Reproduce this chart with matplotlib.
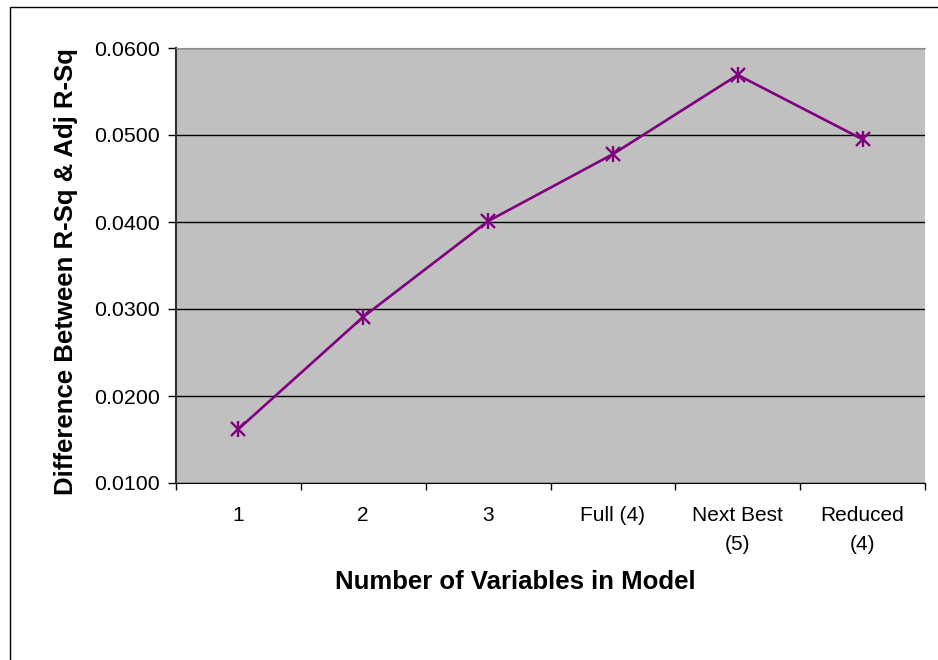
import numpy as np
import matplotlib.pyplot as plt
from matplotlib.patches import Rectangle

plt.rcParams['font.family'] = ['Liberation Sans', 'DejaVu Sans']

# values
categories = ["1", "2", "3", "Full (4)", "Next Best\n(5)", "Reduced\n(4)"]
diff_rsq = [0.0162, 0.0291, 0.0401, 0.0478, 0.0569, 0.0495]
y_ticks = [0.01, 0.02, 0.03, 0.04, 0.05, 0.06]

W, H = 938, 660
fig = plt.figure(figsize=(W / 100, H / 100), dpi=100)

# outer chart border (only left/top visible in the reference)
fig.patches.append(Rectangle((10 / W, -0.1), 1.2, 1 - 7 / H + 0.1,
                             transform=fig.transFigure, fill=False,
                             edgecolor='black', linewidth=1.0))

ax = fig.add_axes([176 / W, 1 - 483 / H, (925 - 176) / W, (483 - 48) / H])
ax.set_facecolor('#C0C0C0')

x = np.arange(len(categories))
ax.plot(x, diff_rsq, color='#800080', linewidth=1.9, marker='x',
        markersize=10, markeredgewidth=1.7, zorder=3)
ax.plot(x, diff_rsq, color='#800080', linestyle='none', marker='|',
        markersize=11.5, markeredgewidth=1.7, zorder=3)

ax.set_xlim(-0.5, len(categories) - 0.5)
ax.set_ylim(0.01, 0.06)

ax.set_yticks(y_ticks)
ax.set_yticklabels([f"{v:.4f}" for v in y_ticks])
ax.yaxis.grid(True, color='black', linewidth=1.0)
ax.set_axisbelow(True)

# major ticks at category boundaries, labels on minor ticks at centres
ax.set_xticks(np.arange(len(categories) + 1) - 0.5)
ax.set_xticklabels([])
ax.set_xticks(x, minor=True)
ax.set_xticklabels(categories, minor=True, linespacing=1.7)
ax.tick_params(axis='x', which='major', length=5, width=1, direction='out')
ax.tick_params(axis='x', which='minor', length=0, pad=16.5, labelsize=15)
ax.tick_params(axis='y', length=5.5, width=1, direction='out', pad=6,
               labelsize=15.4)

ax.spines['right'].set_visible(False)
ax.spines['top'].set_color('#909090')
ax.spines['left'].set_color('#303030')
ax.spines['left'].set_linewidth(1.5)
ax.spines['bottom'].set_color('black')

fig.text(515 / W, 1 - 582 / H, "Number of Variables in Model",
         ha='center', va='center', fontsize=18.5, fontweight='bold')
fig.text(66 / W, 1 - 272 / H, "Difference Between R-Sq & Adj R-Sq",
         ha='center', va='center', rotation=90, fontsize=18.5,
         fontweight='bold')

fig.savefig("out.png", dpi=100)
